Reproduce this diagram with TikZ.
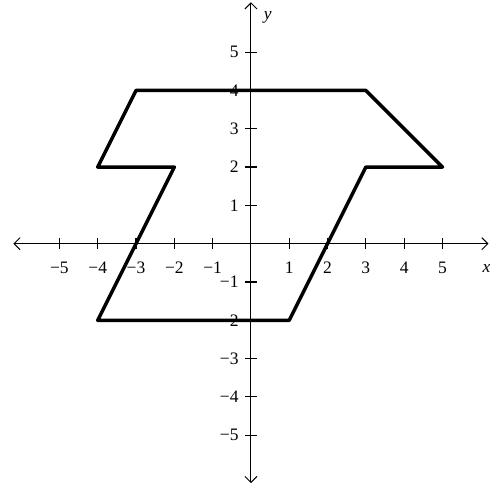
\documentclass[tikz,border=0pt]{standalone}
\usepackage{fontspec}
\setmainfont{Liberation Serif}
\usetikzlibrary{arrows.meta}

\begin{document}
\begin{tikzpicture}[>={Straight Barb[length=4.5pt,width=9pt]},
  font=\fontsize{13}{15}\selectfont]
  \useasboundingbox (-6.55,-6.28) rectangle (6.24,6.36);
  % axes
  \draw[<->,line width=0.7pt] (-6.2,0) -- (6.2,0);
  \draw[<->,line width=0.7pt] (0,-6.25) -- (0,6.3);
  \foreach \i/\t in {-5/−5,-4/−4,-3/−3,-2/−2,-1/−1,1/1,2/2,3/3,4/4,5/5} {
    \draw[line width=0.8pt] (\i,-0.15) -- (\i,0.15);
    \draw[line width=0.8pt] (-0.15,\i) -- (0.15,\i);
    \node at (\i,-0.64) {\t};
    \node[left] at (-0.2,\i) {\t};
  }
  \node at (6.15,-0.64) {\textit{x}};
  \node at (0.44,5.91) {\textit{y}};
  % figure
  \draw[line width=2.6pt,line join=round] (-3,4) -- (3,4) -- (5,2) -- (3,2) -- (1,-2)
    -- (-4,-2) -- (-2,2) -- (-4,2) -- cycle;
\end{tikzpicture}
\end{document}
